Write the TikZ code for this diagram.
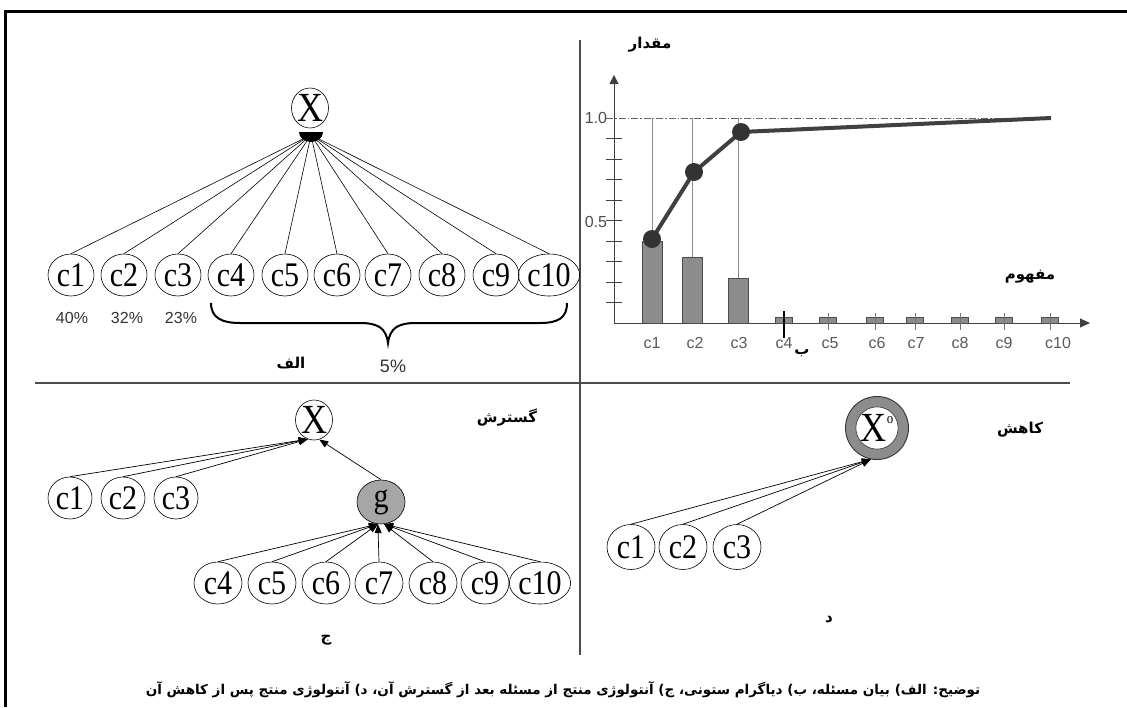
\documentclass[tikz,border=0pt]{standalone}
\usepackage{fontspec}
\setmainfont{Liberation Serif}
\setsansfont{Liberation Sans}
\newfontfamily\fa[Script=Arabic]{DejaVu Sans}
\TeXXeTstate=1
\usetikzlibrary{arrows.meta,shapes.geometric}
\newcommand{\stt}[1]{\scalebox{1}[1.15]{#1}}
\begin{document}
\begin{tikzpicture}[x=1pt,y=-1pt,
  cn/.style={ellipse,draw,line width=0.6pt,inner sep=0pt,minimum width=46pt,minimum height=42pt,font=\fontsize{30}{30}\selectfont},
  xn/.style={ellipse,draw,line width=0.6pt,inner sep=0pt,minimum width=37pt,minimum height=40pt,font=\fontsize{36}{36}\selectfont},
  pct/.style={font=\sffamily\fontsize{16}{16}\selectfont,text=black!80},
  axl/.style={font=\sffamily\fontsize{16}{16}\selectfont,text=black!65},
  fal/.style={font=\fa\bfseries\fontsize{15}{15}\selectfont},
  arr/.style={line width=0.7pt,-{Triangle[length=9pt,width=7pt]}},
  divider/.style={line width=1.2pt,black!70},
  bar/.style={fill=black!45,draw=black!70,line width=0.6pt},
  grid/.style={black!45,line width=0.8pt},
  cum/.style={line width=4pt,black!75},
  dot/.style={circle,fill=black!80,inner sep=0pt,minimum size=18pt},
]
\useasboundingbox (0,0) rectangle (1127,707);
% frame
\draw[line width=3pt] (5,707) -- (5,11) -- (1127,11);
% dividers
\draw[divider] (580,40) -- (580,655);
\draw[divider] (35,383) -- (1070,383);

% ---------------- top-left (الف)
\node[xn] (X1) at (310,108) {\stt{X}};
\coordinate (hub) at (311,135);
\fill (299,132) -- (323,132) arc[start angle=0,end angle=180,x radius=12,y radius=10] -- cycle;
\foreach \n/\x in {1/71,2/124,3/178,4/231,5/285,6/337,7/388,8/442,9/496,10/549}{
  \node[cn] (a\n) at (\x,275) {\stt{c\n}};
  \draw[line width=0.6pt] (hub) -- (a\n.north);
}
\node[pct] (p1) at (72,318) {40\%};
\node[pct] (p2) at (127,318) {32\%};
\node[pct] (p3) at (181,318) {23\%};
\draw[line width=2pt] (211,303) .. controls (211,318) and (222,323) .. (240,323) -- (360,323)
  .. controls (378,323) and (386,328) .. (388,343) .. controls (390,328) and (398,323) .. (416,323)
  -- (540,323) .. controls (558,323) and (567,318) .. (567,303);
\node[pct,font=\sffamily\fontsize{18}{18}\selectfont] (p4) at (393,366) {5\%};
\node[fal] (lA) at (291,363) {\beginR الف\endR};

% ---------------- top-right (ب)
\coordinate (O) at (614,323);
\draw[line width=1pt,black!75,-{Triangle[length=9pt,width=9pt]}] (O) -- (614,75);
\draw[line width=1pt,black!75,-{Triangle[length=10pt,width=9pt]}] (O) -- (1090,323);
\foreach \v in {1,...,9}{
  \draw[line width=0.9pt,black!75] (606,{323-20.5*\v}) -- (622,{323-20.5*\v});
}
\draw[black!60,line width=1pt,dash pattern=on 7pt off 2pt on 1.5pt off 2pt] (606,118) -- (1051,118);
\node[axl,text=black!70] (t10) at (596,118) {1.0};
\node[axl,text=black!70] (t05) at (596,222) {0.5};
% grey guide lines
\foreach \x in {652,692,738}{ \draw[grid] (\x,118) -- (\x,323); }
% bars
\draw[bar] (642,241) rectangle (662,323);
\draw[bar] (682,257) rectangle (702,323);
\draw[bar] (728,278) rectangle (748,323);
\foreach \x in {784,828,875,915,960,1004,1050}{
  \draw[bar] ({\x-8.5},317) rectangle ({\x+8.5},323);
  \draw[black!55,line width=0.8pt] (\x,313) -- (\x,330);
}
\draw[black,line width=1.2pt] (784,311) -- (784,338);
% labels
\foreach \n/\x in {1/652,2/695,3/739,4/784,5/830,6/877,7/916,8/960,9/1004,10/1058}{
  \node[axl] (b\n) at (\x,343) {c\n};
}
% cumulative curve
\draw[cum,line join=round] (652,239) -- (694,172) -- (741,132) -- (1051,118);
\node[dot] (d1) at (652,239) {};
\node[dot] (d2) at (694,172) {};
\node[dot] (d3) at (741,132) {};
\node[fal] (lval) at (650,45) {\beginR مقدار\endR};
\node[fal] (lcon) at (1030,277) {\beginR مفهوم\endR};
\node[fal] (lB) at (802,353) {\beginR ب\endR};

% ---------------- bottom-left (ج)
\node[xn] (X2) at (314,420) {\stt{X}};
\node[cn,minimum width=44pt] (e1) at (70,498) {\stt{c1}};
\node[cn,minimum width=44pt] (e2) at (123,498) {\stt{c2}};
\node[cn,minimum width=44pt] (e3) at (176,498) {\stt{c3}};
\node[cn,fill=black!35,minimum width=48pt,minimum height=44pt] (g) at (381,502) {\stt{g}};
\foreach \n/\x in {4/218,5/272,6/326,7/379,8/433,9/485,10/540}{
  \node[cn,minimum width=48pt] (e\n) at (\x,583) {\stt{c\n}};
}
\foreach \n in {1,2,3}{ \draw[arr] (e\n.north) -- (X2.252); }
\draw[arr] (g.north) -- (X2.285);
\foreach \n in {4,5,6,7}{ \draw[arr] (e\n.north) -- (g.262); }
\foreach \n in {8,9,10}{ \draw[arr] (e\n.north) -- (g.278); }
\node[fal] (lexp) at (507,418) {\beginR گسترش\endR};
\node[fal] (lC) at (326,640) {\beginR ج\endR};

% ---------------- bottom-right (د)
\node[circle,fill=black!45,draw=black!80,line width=0.9pt,minimum size=63pt,inner sep=0pt] (Xr) at (877,428) {};
\node[circle,fill=white,draw=black!80,line width=0.6pt,minimum size=42pt,inner sep=0pt,font=\fontsize{36}{36}\selectfont] (Xi) at (Xr.center) {\stt{X\raisebox{16pt}{\fontsize{13}{13}\selectfont o}}};
\node[cn,minimum width=48pt,minimum height=45pt] (f1) at (631,547) {\stt{c1}};
\node[cn,minimum width=48pt,minimum height=45pt] (f2) at (683,547) {\stt{c2}};
\node[cn,minimum width=48pt,minimum height=45pt] (f3) at (737,547) {\stt{c3}};
\foreach \n in {1,2,3}{ \draw[arr] (f\n.north) -- (Xr.259); }
\node[fal] (lred) at (1020,430) {\beginR کاهش\endR};
\node[fal] (lD) at (829,620) {\beginR د\endR};

% ---------------- caption
\node[fal,font=\fa\bfseries\fontsize{13.5}{14}\selectfont] (cap) at (563,690) {\beginR توضیح: الف) بیان مسئله، ب) دیاگرام ستونی، ج) آنتولوژی منتج از مسئله بعد از گسترش آن، د) آنتولوژی منتج پس از کاهش آن\endR};
\end{tikzpicture}
\end{document}
